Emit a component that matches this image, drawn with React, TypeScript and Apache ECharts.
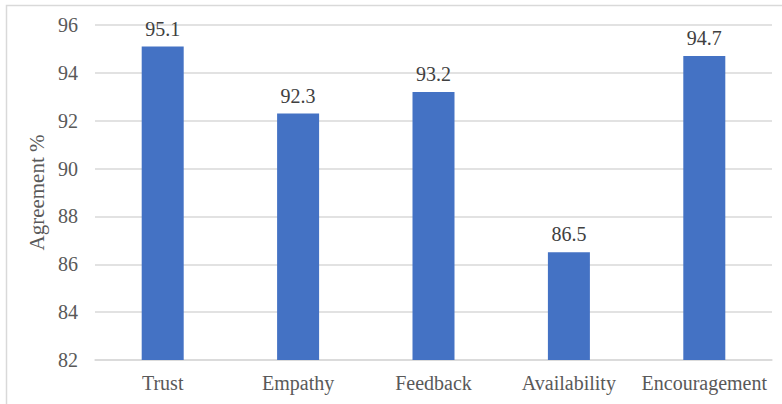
import React, { useEffect, useRef } from "react";
import * as echarts from "echarts";

const categories = ["Trust", "Empathy", "Feedback", "Availability", "Encouragement"];
const agreement = [95.1, 92.3, 93.2, 86.5, 94.7];
const yMin = 82;
const yMax = 96;
const yInterval = 2;

const FONT = "Liberation Serif";

export default function App() {
  const ref = useRef<HTMLDivElement>(null);
  useEffect(() => {
    if (!ref.current) return;
    const chart = echarts.init(ref.current, null, { renderer: "svg" });
    chart.setOption({
      animation: false,
      backgroundColor: "#ffffff",
      textStyle: { fontFamily: FONT },
      graphic: [
        {
          type: "rect",
          left: 4,
          top: 3,
          shape: { x: 0, y: 0, width: 810, height: 430 },
          style: { fill: "none", stroke: "#d9d9d9", lineWidth: 1.5 },
          silent: true,
          z: -1,
        },
      ],
      grid: { left: 95, right: 10, top: 25, bottom: 44, containLabel: false },
      xAxis: {
        type: "category",
        data: categories,
        axisTick: { show: false },
        axisLine: { show: true, lineStyle: { color: "#d9d9d9", width: 1.5 } },
        axisLabel: {
          color: "#595959",
          fontSize: 20,
          fontFamily: FONT,
          margin: 13,
          interval: 0,
        },
      },
      yAxis: {
        type: "value",
        min: yMin,
        max: yMax,
        interval: yInterval,
        name: "Agreement %",
        nameLocation: "middle",
        nameGap: 43,
        nameRotate: 90,
        nameTextStyle: { color: "#595959", fontSize: 21, fontFamily: FONT },
        axisLine: { show: false },
        axisTick: { show: false },
        splitLine: { lineStyle: { color: "#d9d9d9", width: 1.5 } },
        axisLabel: { color: "#595959", fontSize: 20, fontFamily: FONT, margin: 17 },
      },
      series: [
        {
          type: "bar",
          data: agreement,
          barWidth: 42,
          itemStyle: { color: "#4472C4" },
          label: {
            show: true,
            position: "top",
            distance: 8,
            color: "#404040",
            fontSize: 20,
            fontFamily: FONT,
          },
        },
      ],
    });
    return () => chart.dispose();
  }, []);
  return (
    <div
      ref={ref}
      style={{ position: "fixed", left: 0, top: 0, width: 782, height: 404 }}
    />
  );
}
